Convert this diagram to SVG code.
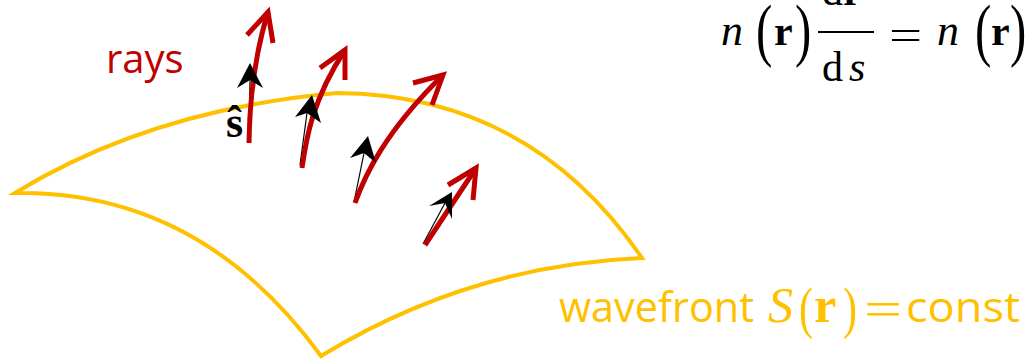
<svg xmlns="http://www.w3.org/2000/svg" width="1026" height="359" viewBox="0 0 1026 359">
<style>
.wf{fill:none;stroke:#FFC000;stroke-width:4;stroke-linejoin:miter}
.ray{fill:none;stroke:#C00000;stroke-width:5;stroke-linecap:butt;stroke-linejoin:miter}
.thin{fill:none;stroke:#000;stroke-width:1.2}
.bh{fill:#000;stroke:none}
.sans{font-family:'Open Sans','Liberation Sans',sans-serif}
.math{font-family:'Liberation Serif','Times New Roman',serif}
.yl{fill:#FFC000}
.k{fill:#000}
</style>
<rect width="1026" height="359" fill="#fff"/>
<g id="wavefront">
<path class="wf" d="M15,193 Q150,110 337,93 Q530.5,94.5 642,258 Q470,265 321,356 Q200,190 15,193 Z"/>
</g>
<g id="connectors">
<g id="ray1">
<line class="thin" x1="249" y1="143" x2="250" y2="80"/>
<path class="ray" d="M249,143 Q250,70 268,12"/>
<path class="ray" d="M247,35 L268,12 L273,43"/>
<polygon class="bh" points="250,63 263,88 250,80 237,88"/>
</g>
<g id="ray2">
<line class="thin" x1="300" y1="165" x2="307" y2="113"/>
<path class="ray" d="M302,168 C306,140 312,100 345,50"/>
<path class="ray" d="M320,68 L345,50 L345,80"/>
<polygon class="bh" points="312,95 321,123 307,113 295,117"/>
</g>
<g id="ray3">
<line class="thin" x1="354" y1="202" x2="364" y2="153"/>
<path class="ray" d="M355,203 C365,175 385,132 443,75"/>
<path class="ray" d="M413,83 L443,75 L432,105"/>
<polygon class="bh" points="368,136 376,163 364,153 350,158"/>
</g>
<g id="ray4">
<line class="thin" x1="423" y1="244" x2="445" y2="203"/>
<path class="ray" d="M425,245 L476,168"/>
<path class="ray" d="M448,185 L476,168 L473,200"/>
<polygon class="bh" points="452,192 452,219 445,203 429,206"/>
</g>
</g>
<g id="label-rays">
<text class="sans" x="106" y="73" font-size="40" fill="#C00000">rays</text>
</g>
<g id="label-s">
<text class="math k" x="226" y="137" font-size="44" font-weight="bold">ŝ</text>
</g>
<g id="equation">
<text class="math k" x="721" y="45" font-size="44" font-style="italic">n</text>
<text class="math k" transform="translate(756,53) scale(0.7,1)" font-size="70">(</text>
<text class="math k" x="774" y="45" font-size="42" font-weight="bold">r</text>
<text class="math k" transform="translate(795,53) scale(0.7,1)" font-size="70">)</text>
<line x1="818" y1="32" x2="874" y2="32" stroke="#000" stroke-width="2"/>
<text class="math k" x="822" y="5" font-size="42">d<tspan font-weight="bold">r</tspan></text>
<text class="math k" x="822" y="81" font-size="42">d<tspan dx="6" font-style="italic">s</tspan></text>
<text class="math k" transform="translate(889,49) scale(1.4,1)" font-size="42">=</text>
<text class="math k" x="937" y="45" font-size="44" font-style="italic">n</text>
<text class="math k" transform="translate(975,53) scale(0.7,1)" font-size="70">(</text>
<text class="math k" x="991" y="45" font-size="42" font-weight="bold">r</text>
<text class="math k" transform="translate(1010,53) scale(0.7,1)" font-size="70">)</text>
</g>
<g id="label-wavefront">
<text class="sans yl" x="559" y="322" font-size="42" textLength="195" lengthAdjust="spacingAndGlyphs">wavefront</text>
<text class="math yl" x="768" y="322" font-size="50" font-style="italic">S</text>
<text class="math yl" transform="translate(799,327) scale(0.75,1)" font-size="56">(</text>
<text class="math yl" x="814" y="322" font-size="50" font-weight="bold">r</text>
<text class="math yl" transform="translate(843,327) scale(0.75,1)" font-size="56">)</text>
<text class="math yl" transform="translate(864,326) scale(1.35,1)" font-size="50">=</text>
<text class="sans yl" x="906" y="322" font-size="42" textLength="114" lengthAdjust="spacingAndGlyphs">const</text>
</g>
</svg>
